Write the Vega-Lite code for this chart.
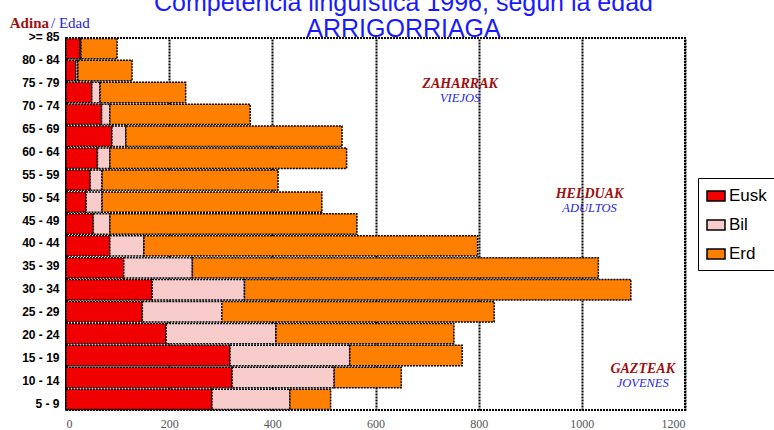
{
  "$schema": "https://vega.github.io/schema/vega-lite/v6.json",
  "width": 619,
  "height": 372,
  "autosize": {"type": "none"},
  "padding": {"left": 66, "top": 38, "right": 89, "bottom": 20},
  "background": "white",
  "config": {
    "font": "Liberation Sans",
    "view": {"stroke": "black", "strokeWidth": 2, "strokeDash": [2, 1]}
  },
  "title": {
    "text": ["Competencia lingüística 1996, según la edad", "ARRIGORRIAGA"],
    "font": "Liberation Sans",
    "fontSize": 25,
    "fontWeight": "normal",
    "color": "#1a1aff",
    "anchor": "middle",
    "frame": "group",
    "baseline": "bottom",
    "lineHeight": 26,
    "offset": -51,
    "dx": 28
  },
  "datasets": {
    "bars": [
      {"age": ">= 85", "lang": "Eusk", "langOrder": 1, "value": 27}, {"age": ">= 85", "lang": "Bil", "langOrder": 2, "value": 2}, {"age": ">= 85", "lang": "Erd", "langOrder": 3, "value": 70},
      {"age": "80 - 84", "lang": "Eusk", "langOrder": 1, "value": 19}, {"age": "80 - 84", "lang": "Bil", "langOrder": 2, "value": 4}, {"age": "80 - 84", "lang": "Erd", "langOrder": 3, "value": 105},
      {"age": "75 - 79", "lang": "Eusk", "langOrder": 1, "value": 50}, {"age": "75 - 79", "lang": "Bil", "langOrder": 2, "value": 16}, {"age": "75 - 79", "lang": "Erd", "langOrder": 3, "value": 166},
      {"age": "70 - 74", "lang": "Eusk", "langOrder": 1, "value": 69}, {"age": "70 - 74", "lang": "Bil", "langOrder": 2, "value": 16}, {"age": "70 - 74", "lang": "Erd", "langOrder": 3, "value": 272},
      {"age": "65 - 69", "lang": "Eusk", "langOrder": 1, "value": 89}, {"age": "65 - 69", "lang": "Bil", "langOrder": 2, "value": 27}, {"age": "65 - 69", "lang": "Erd", "langOrder": 3, "value": 419},
      {"age": "60 - 64", "lang": "Eusk", "langOrder": 1, "value": 61}, {"age": "60 - 64", "lang": "Bil", "langOrder": 2, "value": 24}, {"age": "60 - 64", "lang": "Erd", "langOrder": 3, "value": 459},
      {"age": "55 - 59", "lang": "Eusk", "langOrder": 1, "value": 47}, {"age": "55 - 59", "lang": "Bil", "langOrder": 2, "value": 23}, {"age": "55 - 59", "lang": "Erd", "langOrder": 3, "value": 341},
      {"age": "50 - 54", "lang": "Eusk", "langOrder": 1, "value": 39}, {"age": "50 - 54", "lang": "Bil", "langOrder": 2, "value": 31}, {"age": "50 - 54", "lang": "Erd", "langOrder": 3, "value": 426},
      {"age": "45 - 49", "lang": "Eusk", "langOrder": 1, "value": 53}, {"age": "45 - 49", "lang": "Bil", "langOrder": 2, "value": 32}, {"age": "45 - 49", "lang": "Erd", "langOrder": 3, "value": 479},
      {"age": "40 - 44", "lang": "Eusk", "langOrder": 1, "value": 85}, {"age": "40 - 44", "lang": "Bil", "langOrder": 2, "value": 66}, {"age": "40 - 44", "lang": "Erd", "langOrder": 3, "value": 647},
      {"age": "35 - 39", "lang": "Eusk", "langOrder": 1, "value": 112}, {"age": "35 - 39", "lang": "Bil", "langOrder": 2, "value": 133}, {"age": "35 - 39", "lang": "Erd", "langOrder": 3, "value": 787},
      {"age": "30 - 34", "lang": "Eusk", "langOrder": 1, "value": 167}, {"age": "30 - 34", "lang": "Bil", "langOrder": 2, "value": 179}, {"age": "30 - 34", "lang": "Erd", "langOrder": 3, "value": 749},
      {"age": "25 - 29", "lang": "Eusk", "langOrder": 1, "value": 148}, {"age": "25 - 29", "lang": "Bil", "langOrder": 2, "value": 154}, {"age": "25 - 29", "lang": "Erd", "langOrder": 3, "value": 528},
      {"age": "20 - 24", "lang": "Eusk", "langOrder": 1, "value": 194}, {"age": "20 - 24", "lang": "Bil", "langOrder": 2, "value": 213}, {"age": "20 - 24", "lang": "Erd", "langOrder": 3, "value": 345},
      {"age": "15 - 19", "lang": "Eusk", "langOrder": 1, "value": 318}, {"age": "15 - 19", "lang": "Bil", "langOrder": 2, "value": 232}, {"age": "15 - 19", "lang": "Erd", "langOrder": 3, "value": 218},
      {"age": "10 - 14", "lang": "Eusk", "langOrder": 1, "value": 322}, {"age": "10 - 14", "lang": "Bil", "langOrder": 2, "value": 198}, {"age": "10 - 14", "lang": "Erd", "langOrder": 3, "value": 130},
      {"age": "5 - 9", "lang": "Eusk", "langOrder": 1, "value": 283}, {"age": "5 - 9", "lang": "Bil", "langOrder": 2, "value": 151}, {"age": "5 - 9", "lang": "Erd", "langOrder": 3, "value": 79}
    ],
    "notes": [
      {"age": "75 - 79", "x": 764, "eu": "ZAHARRAK", "es": "VIEJOS"},
      {"age": "50 - 54", "x": 1015, "eu": "HELDUAK", "es": "ADULTOS"},
      {"age": "10 - 14", "x": 1118, "eu": "GAZTEAK", "es": "JOVENES"}
    ],
    "corner": [
      {"age": ">= 85", "x1": -33, "x2": -29, "a": "Adina", "b": "/ Edad"}
    ]
  },
  "encoding": {
    "y": {
      "field": "age",
      "type": "nominal",
      "scale": {
        "domain": [">= 85", "80 - 84", "75 - 79", "70 - 74", "65 - 69", "60 - 64", "55 - 59", "50 - 54", "45 - 49", "40 - 44", "35 - 39", "30 - 34", "25 - 29", "20 - 24", "15 - 19", "10 - 14", "5 - 9"],
        "paddingInner": 0.07,
        "paddingOuter": 0.02
      },
      "axis": {
        "title": null,
        "domainColor": "black",
        "domainWidth": 3,
        "ticks": false,
        "grid": false,
        "labelFont": "Liberation Sans",
        "labelFontWeight": "bold",
        "labelFontSize": 12,
        "labelColor": "black",
        "labelPadding": 7,
        "labelOffset": {"expr": "-12 + 17 * datum.index"}
      }
    }
  },
  "layer": [
    {
      "data": {"name": "bars"},
      "mark": {"type": "bar", "stroke": "black", "strokeWidth": 1.5, "strokeDash": [2, 1]},
      "encoding": {
        "x": {
          "field": "value",
          "type": "quantitative",
          "stack": "zero",
          "scale": {"domain": [0, 1200], "nice": false},
          "axis": {
            "title": null,
            "values": [0, 200, 400, 600, 800, 1000, 1200],
            "format": "d",
            "grid": true,
            "gridColor": "black",
            "gridWidth": 2,
            "gridDash": [2, 1],
            "domain": false,
            "ticks": false,
            "labelFont": "Liberation Serif",
            "labelFontSize": 12,
            "labelColor": "#555555",
            "labelPadding": 8
          }
        },
        "color": {
          "field": "lang",
          "type": "nominal",
          "sort": ["Eusk", "Bil", "Erd"],
          "scale": {"domain": ["Eusk", "Bil", "Erd"], "range": ["#f00000", "#f9cccc", "#ff8000"]},
          "legend": {
            "title": null,
            "orient": "none",
            "legendX": 632,
            "legendY": 140,
            "strokeColor": "black",
            "padding": 8,
            "rowPadding": 11,
            "symbolType": "M-1,-0.55H1V0.55H-1Z",
            "symbolSize": 324,
            "symbolStrokeColor": "black",
            "symbolStrokeWidth": 1.5,
            "symbolOpacity": 1,
            "labelFont": "Liberation Sans",
            "labelFontSize": 17,
            "labelColor": "black",
            "labelOffset": 3
          }
        },
        "order": {"field": "langOrder", "type": "quantitative", "sort": "ascending"}
      }
    },
    {
      "data": {"name": "notes"},
      "mark": {"type": "text", "font": "Liberation Serif", "fontStyle": "italic", "fontWeight": "bold", "fontSize": 14, "color": "#a01010", "dy": -8},
      "encoding": {
        "x": {"field": "x", "type": "quantitative"},
        "text": {"field": "eu"}
      }
    },
    {
      "data": {"name": "notes"},
      "mark": {"type": "text", "font": "Liberation Serif", "fontStyle": "italic", "fontSize": 12.5, "color": "#2424e6", "dy": 6},
      "encoding": {
        "x": {"field": "x", "type": "quantitative"},
        "text": {"field": "es"}
      }
    },
    {
      "data": {"name": "corner"},
      "mark": {"type": "text", "font": "Liberation Serif", "fontWeight": "bold", "fontSize": 15, "color": "#a01010", "align": "right", "baseline": "alphabetic", "dy": -21},
      "encoding": {
        "x": {"field": "x1", "type": "quantitative"},
        "text": {"field": "a"}
      }
    },
    {
      "data": {"name": "corner"},
      "mark": {"type": "text", "font": "Liberation Serif", "fontSize": 15, "color": "#2424e6", "align": "left", "baseline": "alphabetic", "dy": -21},
      "encoding": {
        "x": {"field": "x2", "type": "quantitative"},
        "text": {"field": "b"}
      }
    }
  ]
}
